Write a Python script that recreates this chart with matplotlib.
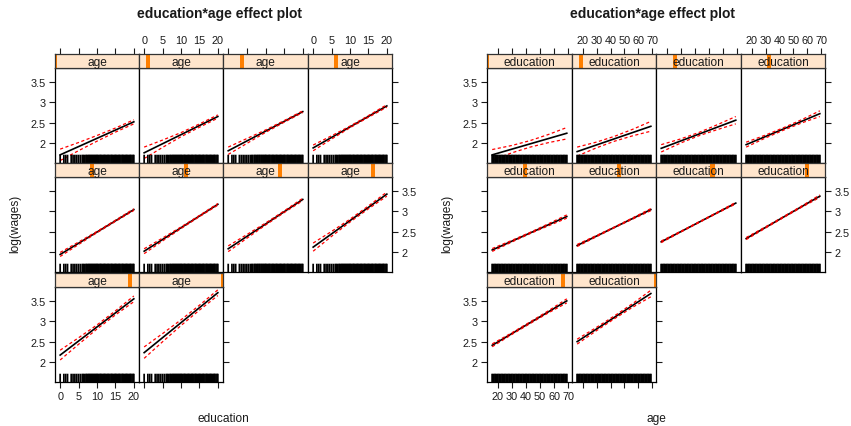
import matplotlib
matplotlib.use("Agg")
import matplotlib.pyplot as plt
from matplotlib.patches import Rectangle
import numpy as np

plt.rcParams['font.family'] = ['Liberation Sans', 'DejaVu Sans']

# ---- data ----
# left block: effect of education, one panel per age level
age_levels = [16, 21.9, 27.8, 33.7, 39.6, 45.4, 51.3, 57.2, 63.1, 69]
edu_fit_start = [1.71, 1.76, 1.81, 1.88, 1.94, 2.02, 2.08, 2.12, 2.17, 2.23]
edu_fit_end = [2.52, 2.65, 2.77, 2.91, 3.04, 3.17, 3.29, 3.42, 3.55, 3.70]
edu_grid = [0, 5, 10, 15, 20]
edu_band = [
    [0.14, 0.10, 0.07, 0.05, 0.05],
    [0.14, 0.09, 0.05, 0.04, 0.04],
    [0.09, 0.06, 0.03, 0.02, 0.02],
    [0.07, 0.04, 0.02, 0.02, 0.03],
    [0.05, 0.03, 0.015, 0.015, 0.02],
    [0.06, 0.035, 0.02, 0.015, 0.02],
    [0.07, 0.045, 0.025, 0.02, 0.03],
    [0.10, 0.06, 0.035, 0.035, 0.05],
    [0.12, 0.08, 0.05, 0.05, 0.07],
    [0.14, 0.10, 0.07, 0.06, 0.07],
]
edu_rug = [0, 1, 1.5, 2, 3, 3.5, 4, 4.5, 5, 5.5, 6, 6.3, 6.6, 7, 7.2, 7.5,
           7.8, 8, 8.3, 8.5, 8.8, 9, 9.3, 9.5, 9.8, 10, 10.2, 10.5, 10.8,
           11, 11.2, 11.5, 11.8, 12, 12.2, 12.5, 12.8, 13, 13.2, 13.5, 13.8,
           14, 14.2, 14.5, 14.8, 15, 15.2, 15.5, 15.8, 16, 16.2, 16.5, 16.8,
           17, 17.2, 17.5, 17.8, 18, 18.2, 18.5, 18.8, 19, 19.2, 19.5, 19.8, 20]

# right block: effect of age, one panel per education level
edu_levels = [0, 2.2, 4.4, 6.7, 8.9, 11.1, 13.3, 15.6, 17.8, 20]
age_fit_start = [1.71, 1.79, 1.87, 1.96, 2.05, 2.16, 2.25, 2.33, 2.41, 2.50]
age_fit_end = [2.24, 2.41, 2.56, 2.72, 2.87, 3.04, 3.20, 3.37, 3.50, 3.68]
age_grid = [16, 30, 43, 56, 69]
age_band = [
    [0.13, 0.09, 0.08, 0.10, 0.14],
    [0.11, 0.07, 0.06, 0.08, 0.12],
    [0.09, 0.05, 0.04, 0.06, 0.09],
    [0.06, 0.035, 0.03, 0.04, 0.07],
    [0.035, 0.02, 0.015, 0.025, 0.04],
    [0.025, 0.015, 0.01, 0.015, 0.025],
    [0.02, 0.01, 0.01, 0.01, 0.02],
    [0.025, 0.015, 0.012, 0.015, 0.03],
    [0.035, 0.02, 0.02, 0.025, 0.05],
    [0.06, 0.04, 0.035, 0.045, 0.08],
]
age_rug = [16, 17, 18, 19, 20, 21, 22, 23, 24, 25, 26, 27, 28, 29, 30, 31,
           32, 33, 34, 35, 36, 37, 38, 39, 40, 41, 42, 43, 44, 45, 46, 47,
           48, 49, 50, 51, 52, 53, 54, 55, 56, 57, 58, 59, 60, 61, 62, 63,
           64, 65, 66, 67, 68, 69]

yticks = [2, 2.5, 3, 3.5]
ytick_labels = ['2', '2.5', '3', '3.5']

W, H = 851, 427
fig = plt.figure(figsize=(W / 100, H / 100), dpi=100)

STRIP_BG = '#FFE5CC'
BAR = '#FF7F00'
TXT = '#1a1a1a'
FS_TICK = 7.8
FS_LAB = 8.6

row_tops = [55, 164, 274]
STRIP_H = 14
PANEL_H = 95
YLIM = (1.51, 3.84)


def px_axes(x0, x1, y0, y1):
    return fig.add_axes([x0 / W, 1 - y1 / H, (x1 - x0) / W, (y1 - y0) / H])


def draw_block(cols, xgrid, fit0, fit1, bands, levels, rug, rug_lw, strip_name,
               xticks, xlabel, title, title_x, ylab_x):
    xmin, xmax = xgrid[0], xgrid[-1]
    pad = 0.07 * (xmax - xmin)
    xlim = (xmin - pad, xmax + pad)
    lmin, lmax = min(levels), max(levels)
    for k in range(10):
        r, c = k // 4, k % 4
        x0, x1 = cols[c], cols[c + 1]
        st = row_tops[r]
        ax = px_axes(x0, x1, st + STRIP_H, st + STRIP_H + PANEL_H)
        sx = px_axes(x0, x1, st, st + STRIP_H)

        # fitted line and confidence band
        g = np.array(xgrid, dtype=float)
        fit = np.interp(g, [xmin, xmax], [fit0[k], fit1[k]])
        hw = np.array(bands[k])
        ax.plot([xmin, xmax], [fit0[k], fit1[k]], color='black', lw=1.2, zorder=3)
        ax.plot(g, fit + hw, color='red', lw=0.9, ls=(0, (2.5, 2)), zorder=3)
        ax.plot(g, fit - hw, color='red', lw=0.9, ls=(0, (2.5, 2)), zorder=3)
        rl = ax.vlines(rug, 0, 0.087, transform=ax.get_xaxis_transform(),
                       color='black', lw=rug_lw, zorder=4)
        rl.set_snap(False)
        ax.set_xlim(xlim)
        ax.set_ylim(YLIM)
        for s in ax.spines.values():
            s.set_linewidth(0.9)

        # ticks
        left = c == 0
        right = (r < 2 and c == 3) or (r == 2 and c == 1)
        bottom = r == 2
        ax.set_yticks(yticks)
        ax.set_yticklabels(ytick_labels)
        ax.set_xticks(xticks)
        ax.set_xticklabels([str(t) for t in xticks])
        ax.tick_params(direction='out', length=4.3, width=0.8, pad=2.5,
                       labelsize=FS_TICK, colors=TXT,
                       left=left, labelleft=left and r != 1,
                       right=right, labelright=right and r == 1,
                       bottom=bottom, labelbottom=bottom and c == 0,
                       top=False, labeltop=False)

        # strip
        sx.set_facecolor(STRIP_BG)
        sx.set_xlim(0, 1)
        sx.set_ylim(0, 1)
        frac = (levels[k] - lmin) / (lmax - lmin)
        sx.add_patch(Rectangle((frac - 0.024, 0), 0.048, 1, color=BAR,
                               lw=0, zorder=2))
        sx.text(0.5, 0.45, strip_name, ha='center', va='center',
                fontsize=FS_LAB, color=TXT, zorder=3)
        for s in sx.spines.values():
            s.set_linewidth(0.9)
            s.set_color('#333333')
        sx.set_yticks([])
        if r == 0:
            tx = sx.secondary_xaxis('top', functions=(
                lambda v: xlim[0] + v * (xlim[1] - xlim[0]),
                lambda v: (v - xlim[0]) / (xlim[1] - xlim[0])))
            tx.set_xticks(xticks)
            tx.set_xticklabels([str(t) for t in xticks] if c % 2 == 1 else [])
            tx.tick_params(direction='out', length=4.3, width=0.8, pad=2.5,
                           labelsize=FS_TICK, colors=TXT)
            tx.spines['top'].set_visible(False)
        sx.set_xticks([])

    cx = (cols[0] + cols[4]) / 2
    fig.text(title_x / W, 1 - 14 / H, title, ha='center', va='center',
             fontsize=10, fontweight='bold', color=TXT)
    fig.text(cx / W, 1 - 419 / H, xlabel, ha='center', va='center',
             fontsize=FS_LAB, color=TXT)
    fig.text(ylab_x / W, 1 - 224 / H, 'log(wages)', ha='center', va='center',
             rotation=90, fontsize=FS_LAB, color=TXT)


draw_block([55, 139, 223, 308, 392], edu_grid, edu_fit_start, edu_fit_end,
           edu_band, age_levels, edu_rug, 1.25, 'age', [0, 5, 10, 15, 20],
           'education', 'education*age effect plot', 220, 15)
draw_block([487, 572, 656, 741, 825], age_grid, age_fit_start, age_fit_end,
           age_band, edu_levels, age_rug, 1.4, 'education',
           [20, 30, 40, 50, 60, 70], 'age', 'education*age effect plot', 652, 447)

fig.savefig('out.png', dpi=100)
